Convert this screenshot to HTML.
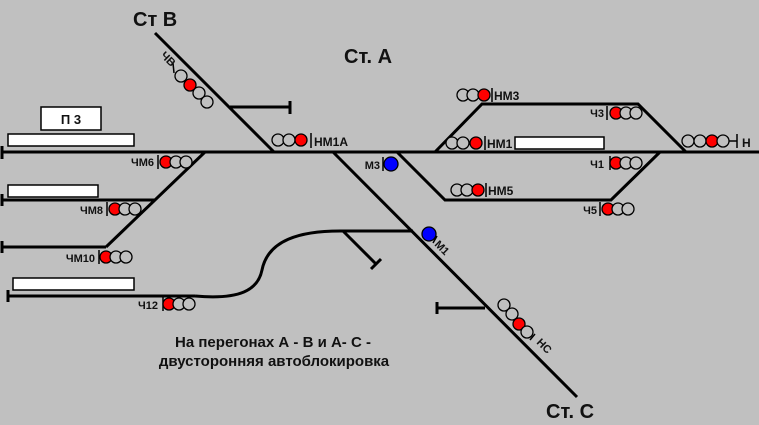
<!DOCTYPE html>
<html><head><meta charset="utf-8"><style>
html,body{margin:0;padding:0;background:#c0c0c0;}
svg{display:block;}
text{font-family:"Liberation Sans",sans-serif;font-weight:bold;fill:#111;}
</style></head><body>
<svg width="759" height="425" viewBox="0 0 759 425" xmlns="http://www.w3.org/2000/svg">
<rect width="759" height="425" fill="#c0c0c0"/>
<g stroke="#000" stroke-width="3" fill="none">
<line x1="2" y1="152" x2="759" y2="152"/>
<line x1="2" y1="146" x2="2" y2="159"/>
<line x1="155" y1="33" x2="274" y2="152"/>
<line x1="230" y1="107" x2="290" y2="107"/>
<line x1="290" y1="101" x2="290" y2="114"/>
<line x1="333" y1="152" x2="577" y2="397"/>
<line x1="485" y1="308" x2="437" y2="308"/>
<line x1="437" y1="302" x2="437" y2="314"/>
<line x1="205" y1="152" x2="106" y2="247"/>
<line x1="2" y1="200" x2="155" y2="200"/>
<line x1="2" y1="194" x2="2" y2="206"/>
<line x1="2" y1="247" x2="106" y2="247"/>
<line x1="2" y1="241" x2="2" y2="253"/>
<line x1="8" y1="296" x2="195" y2="296"/>
<line x1="8" y1="290" x2="8" y2="302"/>
<path d="M195 296 C240 300 258 290 262 270 C268 240 300 231 340 231 L413 231"/>
<line x1="343" y1="231" x2="376" y2="264"/>
<line x1="371" y1="269" x2="381" y2="259"/>
<polyline points="435,152 482,104 638,104 686,152"/>
<polyline points="397,152 445,200 611,200 660,152"/>
</g>
<g fill="#fff" stroke="#000" stroke-width="1.5">
<rect x="41" y="107" width="60" height="23"/>
<rect x="8" y="134" width="126" height="12"/>
<rect x="8" y="185" width="90" height="12"/>
<rect x="13" y="278" width="121" height="12"/>
<rect x="515" y="137" width="89" height="12"/>
</g>
<g stroke="#000" stroke-width="1.5">
<line x1="311" y1="133" x2="311" y2="148"/>
<line x1="158" y1="155" x2="158" y2="169"/>
<line x1="107" y1="202" x2="107" y2="216"/>
<line x1="99" y1="250" x2="99" y2="264"/>
<line x1="163" y1="297" x2="163" y2="311"/>
<line x1="383" y1="157" x2="383" y2="171"/>
<line x1="492" y1="88" x2="492" y2="102"/>
<line x1="607" y1="106" x2="607" y2="120"/>
<line x1="485" y1="136" x2="485" y2="150"/>
<line x1="737" y1="134" x2="737" y2="148"/>
<line x1="610" y1="156" x2="610" y2="170"/>
<line x1="486" y1="183" x2="486" y2="197"/>
<line x1="600" y1="202" x2="600" y2="216"/>
<line x1="729" y1="141" x2="737" y2="141"/>
<line x1="173" y1="63" x2="174" y2="73"/>
<line x1="433" y1="243" x2="437" y2="236"/>
<line x1="530" y1="340" x2="535" y2="334"/>
</g>
<g stroke="#000" stroke-width="1.3" fill="#c0c0c0">
<circle cx="181" cy="76" r="6"/><circle cx="190" cy="85" r="6" fill="#f00"/><circle cx="199" cy="93" r="6"/><circle cx="207" cy="102" r="6"/>
<circle cx="278" cy="140" r="6"/><circle cx="289" cy="140" r="6"/><circle cx="301" cy="140" r="6" fill="#f00"/>
<circle cx="166" cy="162" r="6" fill="#f00"/><circle cx="176" cy="162" r="6"/><circle cx="186" cy="162" r="6"/>
<circle cx="115" cy="209" r="6" fill="#f00"/><circle cx="125" cy="209" r="6"/><circle cx="135" cy="209" r="6"/>
<circle cx="106" cy="257" r="6" fill="#f00"/><circle cx="116" cy="257" r="6"/><circle cx="126" cy="257" r="6"/>
<circle cx="169" cy="304" r="6" fill="#f00"/><circle cx="179" cy="304" r="6"/><circle cx="189" cy="304" r="6"/>
<circle cx="391" cy="164" r="7" fill="#00f"/>
<circle cx="429" cy="234" r="7" fill="#00f"/>
<circle cx="504" cy="305" r="6"/><circle cx="512" cy="314" r="6"/><circle cx="519" cy="324" r="6" fill="#f00"/><circle cx="527" cy="332" r="6"/>
<circle cx="463" cy="95" r="6"/><circle cx="473" cy="95" r="6"/><circle cx="484" cy="95" r="6" fill="#f00"/>
<circle cx="616" cy="113" r="6" fill="#f00"/><circle cx="626" cy="113" r="6"/><circle cx="636" cy="113" r="6"/>
<circle cx="452" cy="143" r="6"/><circle cx="463" cy="143" r="6"/><circle cx="476" cy="143" r="6" fill="#f00"/>
<circle cx="688" cy="141" r="6"/><circle cx="700" cy="141" r="6"/><circle cx="712" cy="141" r="6" fill="#f00"/><circle cx="723" cy="141" r="6"/>
<circle cx="616" cy="163" r="6" fill="#f00"/><circle cx="626" cy="163" r="6"/><circle cx="636" cy="163" r="6"/>
<circle cx="457" cy="190" r="6"/><circle cx="467" cy="190" r="6"/><circle cx="478" cy="190" r="6" fill="#f00"/>
<circle cx="608" cy="209" r="6" fill="#f00"/><circle cx="618" cy="209" r="6"/><circle cx="628" cy="209" r="6"/>
</g>
<text x="133" y="26" font-size="20">Ст В</text>
<text x="344" y="63" font-size="20">Ст. А</text>
<text x="546" y="418" font-size="20">Ст. С</text>
<text x="71" y="124" font-size="13" text-anchor="middle">П 3</text>
<g font-size="11">
<text x="314" y="146" font-size="12">НМ1А</text>
<text x="154" y="166" text-anchor="end">ЧМ6</text>
<text x="103" y="214" text-anchor="end">ЧМ8</text>
<text x="95" y="262" text-anchor="end">ЧМ10</text>
<text x="158" y="309" text-anchor="end">Ч12</text>
<text x="380" y="169" text-anchor="end">М3</text>
<text x="494" y="100" font-size="12">НМ3</text>
<text x="604" y="117" text-anchor="end">Ч3</text>
<text x="487" y="148" font-size="12">НМ1</text>
<text x="742" y="147" font-size="12">Н</text>
<text x="604" y="168" text-anchor="end">Ч1</text>
<text x="488" y="195" font-size="12">НМ5</text>
<text x="597" y="214" text-anchor="end">Ч5</text>
<text transform="translate(160,56) rotate(45)">ЧВ</text>
<text transform="translate(434,245) rotate(45)">М1</text>
<text transform="translate(536,343) rotate(45)">НС</text>
</g>
<text x="273" y="347" font-size="15" text-anchor="middle">На перегонах А - В и А- С  -</text>
<text x="274" y="366" font-size="15" text-anchor="middle">двусторонняя автоблокировка</text>
</svg>
</body></html>
